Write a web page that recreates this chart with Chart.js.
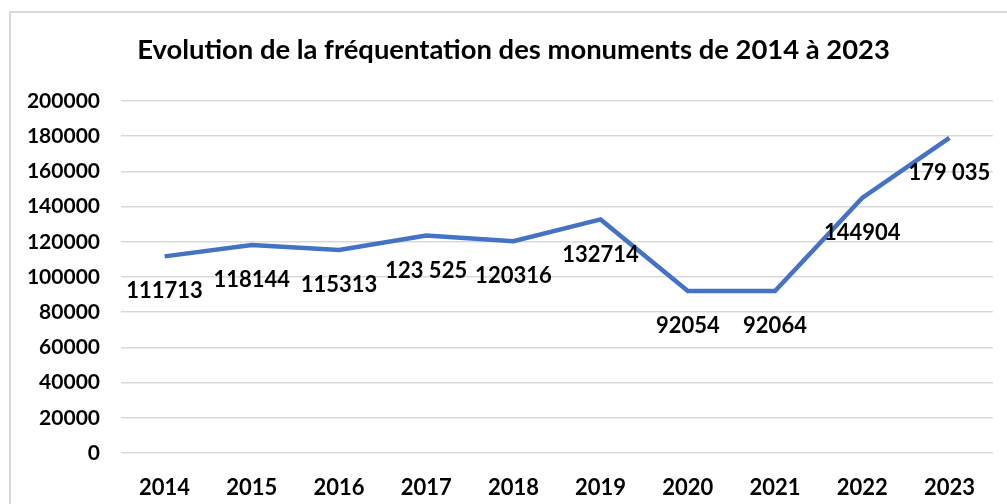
<!DOCTYPE html>
<html>
<head>
<meta charset="utf-8">
<script src="https://cdn.jsdelivr.net/npm/chart.js@4"></script>
<style>
  html, body { margin: 0; padding: 0; background: #fff; overflow: hidden; }
  #frame {
    position: absolute; left: 9px; top: 11px; width: 1100px; height: 600px;
    border: 2px solid #d9d9d9; box-sizing: border-box;
  }
  #chart { position: absolute; left: 0; top: 0; }
</style>
</head>
<body>
<div id="frame"></div>
<canvas id="chart" width="1007" height="504"></canvas>
<script>
/* data */
const years = ["2014", "2015", "2016", "2017", "2018", "2019", "2020", "2021", "2022", "2023"];
const visitors = [111713, 118144, 115313, 123525, 120316, 132714, 92054, 92064, 144904, 179035];
const valueLabels = ["111713", "118144", "115313", "123 525", "120316", "132714", "92054", "92064", "144904", "179 035"];
const yTicks = [0, 20000, 40000, 60000, 80000, 100000, 120000, 140000, 160000, 180000, 200000];
const titleText = "Evolution de la fréquentation des monuments de 2014 à 2023";

const FONT = "Lato, 'Open Sans', sans-serif";

// title centred on the framed box rather than the canvas
const chartTitle = {
  id: "chartTitle",
  afterDraw(chart) {
    const ctx = chart.ctx;
    ctx.save();
    ctx.font = "bold 27.4px " + FONT;
    ctx.fillStyle = "#000";
    ctx.textAlign = "center";
    ctx.textBaseline = "middle";
    ctx.fillText(titleText, chart.width / 2 + 10, 50);
    ctx.restore();
  },
};

// labels drawn under each point, like the Excel "below" position
const pointLabels = {
  id: "pointLabels",
  afterDatasetsDraw(chart) {
    const ctx = chart.ctx;
    const meta = chart.getDatasetMeta(0);
    ctx.save();
    ctx.font = "bold 22px " + FONT;
    ctx.fillStyle = "#000";
    ctx.textAlign = "center";
    ctx.textBaseline = "middle";
    meta.data.forEach((pt, i) => {
      ctx.fillText(valueLabels[i], pt.x, pt.y + 35);
    });
    ctx.restore();
  },
};

const ctx = document.getElementById("chart").getContext("2d");
const chart = new Chart(ctx, {
  type: "line",
  data: {
    labels: years,
    datasets: [
      {
        label: "Fréquentation",
        data: visitors,
        borderColor: "#4472C4",
        borderWidth: 4.5,
        pointRadius: 0,
        tension: 0,
        fill: false,
      },
    ],
  },
  options: {
    responsive: false,
    animation: false,
    layout: { padding: { left: 0, right: 14, top: 101, bottom: 5 } },
    plugins: {
      legend: { display: false },
      tooltip: { enabled: false },
      title: { display: false },
    },
    scales: {
      x: {
        offset: true,
        afterFit(scale) { scale.height = 46; },
        grid: { display: false, drawTicks: false },
        border: { display: false },
        ticks: {
          color: "#000",
          padding: 22,
          maxRotation: 0,
          font: { family: FONT, size: 22, weight: "bold", lineHeight: 1.2 },
        },
      },
      y: {
        min: 0,
        max: 200000,
        afterFit(scale) { scale.width = 121; },
        afterBuildTicks(scale) { scale.ticks = yTicks.map(v => ({ value: v })); },
        grid: { color: "#d9d9d9", lineWidth: 1.5, drawTicks: false },
        border: { display: false },
        ticks: {
          color: "#000",
          padding: 21,
          font: { family: FONT, size: 21, weight: "bold" },
          callback: v => String(v),
        },
      },
    },
  },
  plugins: [pointLabels, chartTitle],
});
</script>
</body>
</html>
